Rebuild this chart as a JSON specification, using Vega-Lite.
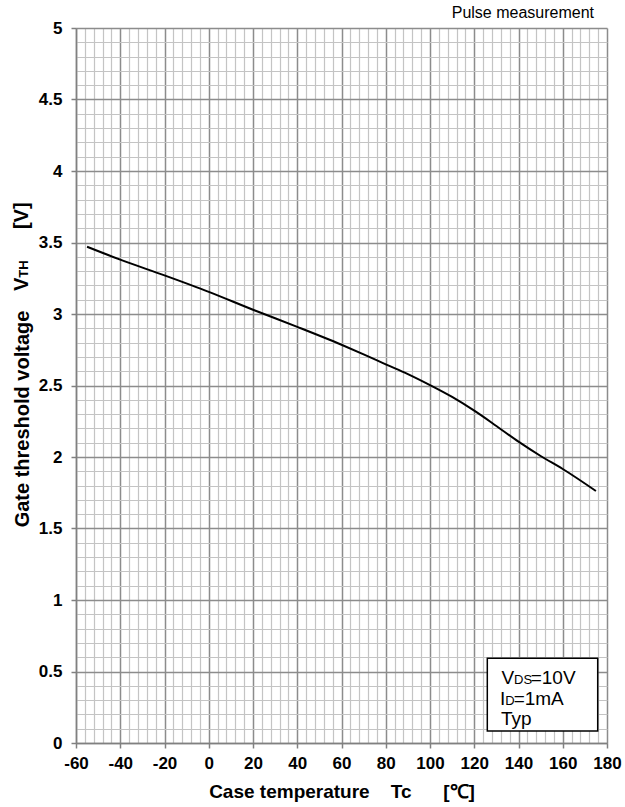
{
  "$schema": "https://vega.github.io/schema/vega-lite/v6.json",
  "autosize": "none",
  "padding": {"left": 76, "top": 28, "right": 18, "bottom": 64},
  "width": 531,
  "height": 715,
  "background": "white",
  "config": {"view": {"stroke": null}, "font": "Liberation Sans"},
  "title": {"text": "Pulse measurement", "anchor": "end", "frame": "group", "fontSize": 16, "fontWeight": "normal", "font": "Liberation Sans", "color": "black", "offset": -2, "dx": -13},
  "layer": [
    {
      "data": {"values": [
        {"Tc": -55, "Vth": 3.47},
        {"Tc": -40, "Vth": 3.38},
        {"Tc": -20, "Vth": 3.27},
        {"Tc": 0, "Vth": 3.155},
        {"Tc": 20, "Vth": 3.03},
        {"Tc": 40, "Vth": 2.91},
        {"Tc": 60, "Vth": 2.785},
        {"Tc": 70, "Vth": 2.718},
        {"Tc": 80, "Vth": 2.648},
        {"Tc": 90, "Vth": 2.58},
        {"Tc": 100, "Vth": 2.503},
        {"Tc": 110, "Vth": 2.42},
        {"Tc": 120, "Vth": 2.324},
        {"Tc": 130, "Vth": 2.217},
        {"Tc": 140, "Vth": 2.107},
        {"Tc": 150, "Vth": 2.007},
        {"Tc": 160, "Vth": 1.916},
        {"Tc": 175, "Vth": 1.762}
      ]},
      "mark": {"type": "line", "color": "black", "strokeWidth": 2, "interpolate": "monotone"},
      "encoding": {
        "x": {
          "field": "Tc", "type": "quantitative",
          "scale": {"domain": [-60, 180], "nice": false, "zero": false},
          "axis": {
            "values": [-60,-56,-52,-48,-44,-40,-36,-32,-28,-24,-20,-16,-12,-8,-4,0,4,8,12,16,20,24,28,32,36,40,44,48,52,56,60,64,68,72,76,80,84,88,92,96,100,104,108,112,116,120,124,128,132,136,140,144,148,152,156,160,164,168,172,176,180],
            "tickCount": 200,
            "grid": true,
            "gridColor": {"condition": {"test": "datum.value % 20 === 0", "value": "#8c8c8c"}, "value": "#c4c4c4"},
            "gridWidth": {"condition": {"test": "datum.value % 20 === 0", "value": 1.5}, "value": 1.2},
            "tickOpacity": {"condition": {"test": "datum.value % 20 === 0", "value": 1}, "value": 0},
            "tickSize": 5, "tickColor": "#808080", "tickWidth": 1.5,
            "domainColor": "#808080", "domainWidth": 1.5,
            "labelExpr": "datum.value % 20 === 0 ? toString(datum.value) : ''",
            "labelOverlap": false, "labelFlush": false,
            "labelFont": "Liberation Sans", "labelFontSize": 17, "labelFontWeight": "bold", "labelColor": "black", "labelPadding": 7,
            "title": "Case temperature\u00a0\u00a0\u00a0\u00a0Tc\u00a0\u00a0\u00a0\u00a0\u00a0\u00a0[℃]",
            "titleFont": "Liberation Sans", "titleFontSize": 19, "titleFontWeight": "bold", "titleColor": "black", "titlePadding": 11
          }
        },
        "y": {
          "field": "Vth", "type": "quantitative",
          "scale": {"domain": [0, 5], "nice": false, "zero": true},
          "axis": {
            "values": [0,0.1,0.2,0.3,0.4,0.5,0.6,0.7,0.8,0.9,1,1.1,1.2,1.3,1.4,1.5,1.6,1.7,1.8,1.9,2,2.1,2.2,2.3,2.4,2.5,2.6,2.7,2.8,2.9,3,3.1,3.2,3.3,3.4,3.5,3.6,3.7,3.8,3.9,4,4.1,4.2,4.3,4.4,4.5,4.6,4.7,4.8,4.9,5],
            "tickCount": 200,
            "grid": true,
            "gridColor": {"condition": {"test": "abs(datum.value*2-round(datum.value*2))<0.001", "value": "#8c8c8c"}, "value": "#c4c4c4"},
            "gridWidth": {"condition": {"test": "abs(datum.value*2-round(datum.value*2))<0.001", "value": 1.5}, "value": 1.2},
            "tickOpacity": {"condition": {"test": "abs(datum.value*2-round(datum.value*2))<0.001", "value": 1}, "value": 0},
            "tickSize": 5, "tickColor": "#808080", "tickWidth": 1.5,
            "domainColor": "#808080", "domainWidth": 1.5,
            "labelExpr": "abs(datum.value*2-round(datum.value*2))<0.001 ? toString(round(datum.value*10)/10) : ''",
            "labelOverlap": false, "labelFlush": false,
            "labelFont": "Liberation Sans", "labelFontSize": 17, "labelFontWeight": "bold", "labelColor": "black", "labelPadding": 9,
            "title": "Gate threshold voltage",
            "titleFont": "Liberation Sans", "titleFontSize": 20, "titleFontWeight": "bold", "titleColor": "black",
            "titleX": -48, "titleY": 390.5, "titleAngle": 270, "titleAlign": "center", "titleBaseline": "alphabetic"
          }
        }
      }
    },
    {
      "data": {"values": [{}]},
      "mark": {"type": "text", "text": "V", "font": "Liberation Sans", "fontSize": 20, "fontWeight": "bold", "color": "black", "angle": 270, "align": "left", "baseline": "alphabetic"},
      "encoding": {"x": {"datum": -81.7}, "y": {"datum": 3.161}}
    },
    {
      "data": {"values": [{}]},
      "mark": {"type": "text", "text": "TH", "font": "Liberation Sans", "fontSize": 13, "fontWeight": "bold", "color": "black", "angle": 270, "align": "left", "baseline": "alphabetic"},
      "encoding": {"x": {"datum": -81.7}, "y": {"datum": 3.254}}
    },
    {
      "data": {"values": [{}]},
      "mark": {"type": "text", "text": "[V]", "font": "Liberation Sans", "fontSize": 20, "fontWeight": "bold", "color": "black", "angle": 270, "align": "left", "baseline": "alphabetic"},
      "encoding": {"x": {"datum": -81.7}, "y": {"datum": 3.594}}
    },
    {
      "data": {"values": [{}]},
      "mark": {"type": "rect", "fill": "white", "stroke": "black", "strokeWidth": 1.5},
      "encoding": {"x": {"datum": 125.9}, "x2": {"datum": 175.8}, "y": {"datum": 0.592}, "y2": {"datum": 0.084}}
    },
    {
      "data": {"values": [{}]},
      "mark": {"type": "text", "text": "V", "font": "Liberation Sans", "fontSize": 19, "color": "black", "align": "left", "baseline": "alphabetic"},
      "encoding": {"x": {"datum": 132.3}, "y": {"datum": 0.4105}}
    },
    {
      "data": {"values": [{}]},
      "mark": {"type": "text", "text": "DS", "font": "Liberation Sans", "fontSize": 13, "color": "black", "align": "left", "baseline": "alphabetic"},
      "encoding": {"x": {"datum": 138.0}, "y": {"datum": 0.4105}}
    },
    {
      "data": {"values": [{}]},
      "mark": {"type": "text", "text": "=10V", "font": "Liberation Sans", "fontSize": 19, "color": "black", "align": "left", "baseline": "alphabetic"},
      "encoding": {"x": {"datum": 145.5}, "y": {"datum": 0.4105}}
    },
    {
      "data": {"values": [{}]},
      "mark": {"type": "text", "text": "I", "font": "Liberation Sans", "fontSize": 19, "color": "black", "align": "left", "baseline": "alphabetic"},
      "encoding": {"x": {"datum": 131.6}, "y": {"datum": 0.2657}}
    },
    {
      "data": {"values": [{}]},
      "mark": {"type": "text", "text": "D", "font": "Liberation Sans", "fontSize": 13, "color": "black", "align": "left", "baseline": "alphabetic"},
      "encoding": {"x": {"datum": 134.0}, "y": {"datum": 0.2657}}
    },
    {
      "data": {"values": [{}]},
      "mark": {"type": "text", "text": "=1mA", "font": "Liberation Sans", "fontSize": 19, "color": "black", "align": "left", "baseline": "alphabetic"},
      "encoding": {"x": {"datum": 137.8}, "y": {"datum": 0.2657}}
    },
    {
      "data": {"values": [{}]},
      "mark": {"type": "text", "text": "Typ", "font": "Liberation Sans", "fontSize": 19, "color": "black", "align": "left", "baseline": "alphabetic"},
      "encoding": {"x": {"datum": 132.1}, "y": {"datum": 0.1259}}
    }
  ]
}
